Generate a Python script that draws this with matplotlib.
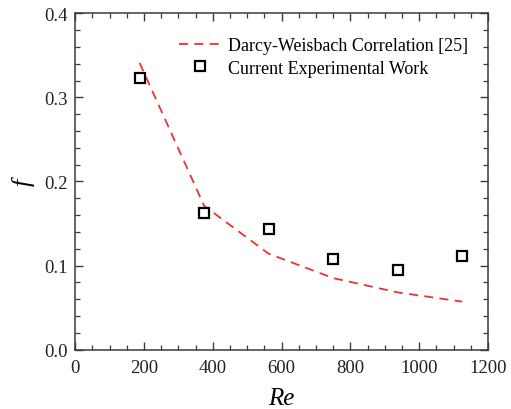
import matplotlib
matplotlib.use("Agg")
import matplotlib.pyplot as plt
from matplotlib.ticker import MultipleLocator, FormatStrFormatter

# Reynolds numbers of the test runs
re_vals = [187.5, 375, 562.5, 750, 937.5, 1125]
# Darcy-Weisbach correlation friction factor
f_corr = [0.341, 0.171, 0.114, 0.085, 0.068, 0.057]
# measured friction factor
f_exp = [0.323, 0.162, 0.144, 0.108, 0.095, 0.111]

plt.rcParams["font.family"] = ["Liberation Serif", "DejaVu Serif"]

fig = plt.figure(figsize=(5.11, 4.10), dpi=100)
ax = fig.add_axes([0.147, 0.145, 0.808, 0.82])

ax.plot(re_vals, f_corr, "--", color="#ee3030", lw=1.3, dashes=(5, 3.5),
        label="Darcy-Weisbach Correlation [25]")
ax.plot(re_vals, f_exp, "s", ms=6.5, mfc="white", mec="black", mew=1.6,
        ls="none", label="Current Experimental Work")

ax.set_xlim(0, 1200)
ax.set_ylim(0, 0.4)
ax.xaxis.set_major_locator(MultipleLocator(200))
ax.xaxis.set_minor_locator(MultipleLocator(50))
ax.yaxis.set_major_locator(MultipleLocator(0.1))
ax.yaxis.set_minor_locator(MultipleLocator(0.02))
ax.yaxis.set_major_formatter(FormatStrFormatter("%.1f"))

edge = "#3a3a3a"
for s in ax.spines.values():
    s.set_color(edge)
    s.set_linewidth(1.1)
ax.tick_params(which="both", direction="in", top=True, right=True,
               colors=edge, labelcolor="#222222", labelsize=13.5)
ax.tick_params(which="major", length=6, width=1.0, pad=5)
ax.tick_params(axis="x", which="major", pad=7)
ax.tick_params(which="minor", length=3.5, width=0.9)

ax.set_xlabel("Re", fontsize=18, style="italic", labelpad=8)
ax.set_ylabel("f", fontsize=18, style="italic", labelpad=7)

ax.legend(loc="upper right", bbox_to_anchor=(1.0, 0.988), frameon=False,
          fontsize=13, handlelength=2.3, handletextpad=0.4, labelspacing=0.3,
          borderaxespad=0.6, borderpad=0.5)

fig.savefig("out.png", dpi=100)
